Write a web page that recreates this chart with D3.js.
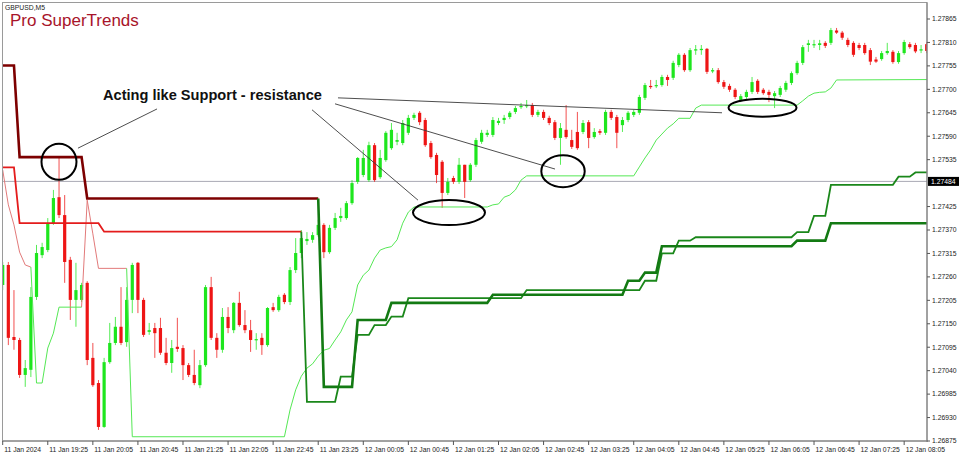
<!DOCTYPE html>
<html><head><meta charset="utf-8">
<script src="https://cdn.jsdelivr.net/npm/d3@7"></script>
<style>body{margin:0;background:#fff}svg{display:block}</style>
</head><body><svg id="c" width="960" height="458"></svg>
<script>
// ---------- DATA ----------
const timeTickBars = [0,8,16,24,32,40,48,56,64,72,80,88,96,104,112,120,128,136,144,152,160];
const timeTickLabels = ["11 Jan 2024","11 Jan 19:25","11 Jan 20:05","11 Jan 20:45","11 Jan 21:25","11 Jan 22:05","11 Jan 22:45","11 Jan 23:25","12 Jan 00:05","12 Jan 00:45","12 Jan 01:25","12 Jan 02:05","12 Jan 02:45","12 Jan 03:25","12 Jan 04:05","12 Jan 04:45","12 Jan 05:25","12 Jan 06:05","12 Jan 06:45","12 Jan 07:25","12 Jan 08:05"];
const priceTickLabels = ["1.26875","1.26930","1.26985","1.27040","1.27095","1.27150","1.27205","1.27260","1.27315","1.27370","1.27425","1.27535","1.27590","1.27645","1.27700","1.27755","1.27810","1.27865"];
const currentPrice = 1.27484;

const opens = [1.27241,1.27288,1.27119,1.27112,1.27030,1.27042,1.27213,1.27311,1.27323,1.27386,
1.27447,1.27405,1.27300,1.27206,1.27206,1.27246,1.27070,1.27011,1.26908,1.27060,
1.27105,1.27143,1.27107,1.27206,1.27293,1.27206,1.27131,1.27140,1.27140,1.27082,
1.27058,1.27096,1.27093,1.27053,1.27030,1.27006,1.27053,1.27236,1.27117,1.27089,
1.27166,1.27135,1.27199,1.27147,1.27135,1.27112,1.27117,1.27100,1.27189,1.27182,
1.27218,1.27201,1.27276,1.27316,1.27344,1.27347,1.27358,1.27382,1.27318,1.27375,
1.27398,1.27398,1.27433,1.27483,1.27499,1.27487,1.27569,1.27494,1.27534,1.27562,
1.27577,1.27574,1.27598,1.27633,1.27645,1.27628,1.27574,1.27546,1.27530,1.27457,
1.27492,1.27483,1.27523,1.27487,1.27523,1.27577,1.27593,1.27593,1.27621,1.27628,
1.27635,1.27647,1.27659,1.27661,1.27663,1.27640,1.27647,1.27633,1.27623,1.27586,
1.27605,1.27581,1.27600,1.27600,1.27623,1.27588,1.27602,1.27598,1.27647,1.27635,
1.27616,1.27628,1.27640,1.27645,1.27680,1.27708,1.27708,1.27710,1.27729,1.27727,
1.27757,1.27781,1.27745,1.27791,1.27792,1.27795,1.27742,1.27745,1.27717,1.27708,
1.27699,1.27675,1.27682,1.27694,1.27720,1.27699,1.27694,1.27684,1.27687,1.27699,
1.27715,1.27738,1.27762,1.27804,1.27804,1.27804,1.27809,1.27809,1.27838,1.27833,
1.27816,1.27809,1.27804,1.27804,1.27792,1.27770,1.27771,1.27785,1.27788,1.27764,
1.27785,1.27806,1.27804,1.27791,1.27806];
const highs = [1.27295,1.27295,1.27229,1.27117,1.27065,1.27236,1.27335,1.27340,1.27398,1.27464,
1.27539,1.27452,1.27307,1.27293,1.27246,1.27250,1.27105,1.27018,1.27070,1.27152,
1.27166,1.27236,1.27236,1.27293,1.27295,1.27211,1.27152,1.27152,1.27164,1.27117,
1.27112,1.27164,1.27100,1.27058,1.27089,1.27065,1.27241,1.27260,1.27128,1.27187,
1.27189,1.27201,1.27225,1.27182,1.27159,1.27128,1.27128,1.27189,1.27199,1.27218,
1.27222,1.27283,1.27351,1.27370,1.27365,1.27365,1.27394,1.27386,1.27382,1.27410,
1.27422,1.27438,1.27487,1.27541,1.27558,1.27577,1.27574,1.27558,1.27602,1.27621,
1.27598,1.27628,1.27640,1.27645,1.27649,1.27633,1.27579,1.27551,1.27534,1.27492,
1.27497,1.27539,1.27523,1.27527,1.27586,1.27605,1.27605,1.27635,1.27633,1.27640,
1.27649,1.27661,1.27668,1.27675,1.27668,1.27652,1.27652,1.27638,1.27628,1.27621,
1.27663,1.27605,1.27647,1.27628,1.27628,1.27609,1.27607,1.27652,1.27652,1.27640,
1.27635,1.27649,1.27652,1.27687,1.27715,1.27722,1.27722,1.27734,1.27734,1.27767,
1.27785,1.27785,1.27797,1.27804,1.27804,1.27797,1.27750,1.27750,1.27722,1.27713,
1.27703,1.27689,1.27699,1.27729,1.27724,1.27703,1.27699,1.27696,1.27708,1.27720,
1.27742,1.27767,1.27804,1.27816,1.27816,1.27816,1.27813,1.27844,1.27844,1.27837,
1.27821,1.27813,1.27809,1.27809,1.27797,1.27776,1.27790,1.27809,1.27792,1.27790,
1.27816,1.27811,1.27809,1.27804,1.27811];
const lows = [1.27229,1.27100,1.27089,1.27023,1.27002,1.27025,1.27206,1.27304,1.27318,1.27382,
1.27398,1.27246,1.27159,1.27143,1.27201,1.27053,1.27002,1.26901,1.26906,1.27056,
1.27100,1.27100,1.27096,1.27175,1.27175,1.27119,1.27124,1.27070,1.27077,1.27053,
1.27035,1.27084,1.27018,1.27025,1.27006,1.26999,1.27049,1.27112,1.27070,1.27082,
1.27128,1.27128,1.27143,1.27128,1.27084,1.27089,1.27077,1.27096,1.27178,1.27178,
1.27196,1.27194,1.27269,1.27304,1.27335,1.27340,1.27354,1.27304,1.27314,1.27370,
1.27389,1.27394,1.27429,1.27478,1.27494,1.27483,1.27483,1.27490,1.27530,1.27558,
1.27569,1.27569,1.27593,1.27628,1.27616,1.27565,1.27537,1.27480,1.27422,1.27452,
1.27478,1.27478,1.27445,1.27483,1.27518,1.27572,1.27588,1.27588,1.27616,1.27619,
1.27630,1.27642,1.27654,1.27656,1.27635,1.27635,1.27628,1.27616,1.27581,1.27523,
1.27584,1.27560,1.27558,1.27595,1.27562,1.27584,1.27593,1.27593,1.27628,1.27562,
1.27600,1.27623,1.27635,1.27640,1.27675,1.27701,1.27703,1.27706,1.27708,1.27722,
1.27752,1.27741,1.27741,1.27781,1.27781,1.27736,1.27738,1.27713,1.27701,1.27694,
1.27677,1.27670,1.27677,1.27689,1.27689,1.27687,1.27670,1.27656,1.27682,1.27694,
1.27710,1.27734,1.27757,1.27788,1.27797,1.27792,1.27797,1.27804,1.27830,1.27816,
1.27799,1.27776,1.27792,1.27781,1.27757,1.27762,1.27767,1.27781,1.27760,1.27760,
1.27781,1.27795,1.27785,1.27785,1.27785];
const closes = [1.27288,1.27117,1.27112,1.27030,1.27046,1.27213,1.27316,1.27330,1.27386,1.27445,
1.27405,1.27295,1.27206,1.27229,1.27241,1.27065,1.27006,1.26908,1.27060,1.27105,
1.27143,1.27105,1.27206,1.27288,1.27206,1.27124,1.27135,1.27128,1.27082,1.27058,
1.27093,1.27091,1.27053,1.27030,1.27011,1.27053,1.27236,1.27117,1.27089,1.27166,
1.27140,1.27199,1.27147,1.27135,1.27112,1.27114,1.27100,1.27187,1.27182,1.27213,
1.27201,1.27276,1.27316,1.27351,1.27349,1.27358,1.27382,1.27318,1.27375,1.27398,
1.27403,1.27433,1.27480,1.27539,1.27539,1.27569,1.27487,1.27539,1.27598,1.27605,
1.27581,1.27621,1.27633,1.27640,1.27623,1.27569,1.27541,1.27499,1.27457,1.27483,
1.27483,1.27523,1.27483,1.27523,1.27581,1.27598,1.27598,1.27628,1.27626,1.27633,
1.27645,1.27656,1.27661,1.27663,1.27640,1.27647,1.27633,1.27621,1.27586,1.27609,
1.27588,1.27565,1.27562,1.27621,1.27586,1.27600,1.27598,1.27647,1.27633,1.27598,
1.27628,1.27645,1.27647,1.27682,1.27710,1.27706,1.27710,1.27729,1.27722,1.27762,
1.27781,1.27745,1.27792,1.27794,1.27795,1.27741,1.27745,1.27717,1.27706,1.27699,
1.27682,1.27684,1.27694,1.27717,1.27694,1.27691,1.27687,1.27691,1.27703,1.27715,
1.27738,1.27762,1.27799,1.27808,1.27806,1.27808,1.27802,1.27839,1.27833,1.27821,
1.27804,1.27781,1.27797,1.27785,1.27765,1.27765,1.27785,1.27790,1.27764,1.27785,
1.27811,1.27799,1.27789,1.27794,1.27790];

// SuperTrend lines: [bar index, price] vertices
const slowUp = [[0,1.27756],[2,1.27756],[3,1.27541],[14,1.27541],[15,1.27444],[56,1.27444]];
const slowDown = [[56,1.27444],[57,1.27002],[62,1.27002],[63,1.27159],[68,1.27159],[69,1.27199],[86,1.27199],[87,1.27218],[110,1.27218],[111,1.27251],[113,1.27251],[114,1.27270],[116,1.27270],[117,1.27332],[140,1.27332],[141,1.27345],[146,1.27345],[147,1.27386],[165,1.27386]];
const midUp = [[0,1.27517],[2,1.27517],[3,1.27386],[17,1.27386],[18,1.27366],[53,1.27366]];
const midDown = [[53,1.27366],[54,1.26967],[59,1.26967],[60,1.27026],[62,1.27026],[63,1.27124],[65,1.27124],[66,1.27147],[68,1.27147],[69,1.27167],[71,1.27167],[72,1.27210],[92,1.27210],[93,1.27229],[113,1.27229],[114,1.27251],[116,1.27251],[117,1.27315],[119,1.27315],[120,1.27345],[122,1.27345],[123,1.27353],[140,1.27353],[141,1.27365],[143,1.27365],[144,1.27403],[146,1.27403],[147,1.27476],[158,1.27476],[159,1.27495],[161,1.27495],[162,1.27505],[165,1.27505]];
const fastUp1 = [[0,1.27511],[1,1.27429],[2,1.27382],[3,1.27318],[4,1.27288],[5,1.27283]];
const fastUp2 = [[14,1.27189],[15,1.27440],[16,1.27361],[17,1.27280],[22,1.27280]];
const fastDown1 = [[5,1.27283],[6,1.27011],[7,1.27011],[8,1.27093],[9,1.27128],[10,1.27189],[14,1.27189]];
const fastDown2 = [[22,1.27280],[23,1.26885],[50,1.26885],[51,1.26948],[52,1.26995],[53,1.27027],[54,1.27046],[55,1.27056],[56,1.27074],[57,1.27088],[58,1.27092],[59,1.27112],[60,1.27131],[61,1.27159],[62,1.27178],[63,1.27241],[64,1.27264],[65,1.27276],[66,1.27304],[67,1.27323],[68,1.27328],[69,1.27331],[70,1.27347],[71,1.27386],[72,1.27412],[73,1.27424],[86,1.27424],[87,1.27429],[88,1.27431],[89,1.27447],[90,1.27452],[91,1.27464],[92,1.27487],[93,1.27497],[112,1.27497],[113,1.27518],[114,1.27539],[115,1.27558],[116,1.27581],[117,1.27595],[118,1.27609],[119,1.27619],[120,1.27632],[122,1.27632],[123,1.27656],[124,1.27663],[141,1.27663],[142,1.27673],[143,1.27684],[144,1.27691],[145,1.27693],[146,1.27694],[147,1.27703],[148,1.27722],[165,1.27723]];

// annotation pointers: [bar1, price1, bar2, price2]
const pointerLines = [[13.36,1.27562,27.39,1.27654],[54.9,1.27652,73.71,1.27440],[58.98,1.27666,98.03,1.27513],[59.51,1.27680,127.67,1.27645]];
const ellipseCenters = [[9.99,1.27530],[79.21,1.27411],[99.45,1.27508],[134.86,1.27657]];
const ellipseRadii = [[17.5,18],[36,12.5],[21.7,16],[34,9]];

// ---------- DRAW ----------
const svg = d3.select("#c");
const W = 960, H = 458;
const pL = 2.5, pR = 927, pT = 2.5, pB = 441;
const xS = d3.scaleLinear().domain([0,164]).range([2.7,926.7]);
const yS = d3.scaleLinear().domain([1.26875,1.27865]).range([441,19]);

svg.append("rect").attr("width",W).attr("height",H).attr("fill","#fff");
svg.append("defs").append("clipPath").attr("id","plot").append("rect")
  .attr("x",pL+0.5).attr("y",pT+0.5).attr("width",pR-pL-0.5).attr("height",pB-pT-0.5);

const plot = svg.append("g").attr("clip-path","url(#plot)");

// current price line
plot.append("line").attr("x1",pL).attr("x2",pR).attr("y1",yS(currentPrice)).attr("y2",yS(currentPrice))
  .attr("stroke","#a9a9b4").attr("stroke-width",1);

// candles
const idx = d3.range(opens.length);
const bull = "#1ee61e", bear = "#ee1515";
plot.append("g").selectAll("line").data(idx).join("line")
  .attr("x1",i=>xS(i)).attr("x2",i=>xS(i)).attr("y1",i=>yS(highs[i])).attr("y2",i=>yS(lows[i]))
  .attr("stroke",i=>closes[i]>=opens[i]?bull:bear).attr("stroke-width",1).attr("stroke-opacity",0.75);
plot.append("g").selectAll("rect").data(idx).join("rect")
  .attr("x",i=>xS(i)-1.6).attr("width",3.2)
  .attr("y",i=>yS(Math.max(opens[i],closes[i])))
  .attr("height",i=>Math.max(1.2, yS(Math.min(opens[i],closes[i]))-yS(Math.max(opens[i],closes[i]))))
  .attr("fill",i=>closes[i]>=opens[i]?bull:bear);

// supertrend lines
const ln = d3.line().x(d=>xS(d[0])).y(d=>yS(d[1]));
function drawLine(data,color,w){
  plot.append("path").attr("d",ln(data)).attr("fill","none").attr("stroke",color)
    .attr("stroke-width",w).attr("stroke-linejoin","miter");
}
drawLine(fastUp1,"#e27a7a",1);
drawLine(fastUp2,"#e27a7a",1);
drawLine(fastDown1,"#55e855",1);
drawLine(fastDown2,"#55e855",1);
drawLine(midUp,"#e41c1c",1.8);
drawLine(midDown,"#1a871a",1.8);
drawLine(slowUp,"#7d0000",2.6);
drawLine(slowDown,"#137a13",2.6);

// annotations
const ann = svg.append("g");
ann.selectAll("line").data(pointerLines).join("line")
  .attr("x1",d=>xS(d[0])).attr("y1",d=>yS(d[1])).attr("x2",d=>xS(d[2])).attr("y2",d=>yS(d[3]))
  .attr("stroke","#3a3a3a").attr("stroke-width",0.9);
ann.selectAll("ellipse").data(ellipseCenters).join("ellipse")
  .attr("cx",d=>xS(d[0])).attr("cy",d=>yS(d[1]))
  .attr("rx",(d,k)=>ellipseRadii[k][0]).attr("ry",(d,k)=>ellipseRadii[k][1])
  .attr("fill","none").attr("stroke","#000").attr("stroke-width",2);

const fnt = "'Liberation Sans', Arial, sans-serif";
svg.append("text").attr("x",103).attr("y",99.5).text("Acting like Support - resistance")
  .attr("font-family",fnt).attr("font-weight","bold")
  .attr("font-size",14.5).attr("fill","#111").attr("textLength",219).attr("lengthAdjust","spacingAndGlyphs");

// frame
svg.append("rect").attr("x",pL).attr("y",pT).attr("width",pR-pL).attr("height",pB-pT)
  .attr("fill","none").attr("stroke","#9a9a9a").attr("stroke-width",1);
svg.append("line").attr("x1",pR).attr("x2",pR).attr("y1",pT).attr("y2",pB+1).attr("stroke","#777");
svg.append("line").attr("x1",pL).attr("x2",pR).attr("y1",pB).attr("y2",pB).attr("stroke","#777");

// titles
svg.append("text").attr("x",5).attr("y",9.5).text("GBPUSD,M5")
  .attr("font-family",fnt).attr("font-size",6.8).attr("fill","#222");
svg.append("text").attr("x",10).attr("y",26).text("Pro SuperTrends")
  .attr("font-family",fnt).attr("font-size",17).attr("fill","#a8142a");

// price axis
const pAx = svg.append("g");
priceTickLabels.forEach(s=>{
  const v = +s, yy = yS(v);
  pAx.append("line").attr("x1",pR).attr("x2",pR+3).attr("y1",yy).attr("y2",yy).attr("stroke","#555");
  pAx.append("text").attr("x",pR+5).attr("y",yy).attr("dy","0.35em").text(s)
    .attr("font-family",fnt).attr("font-size",6.8).attr("fill","#222");
});
const cpy = yS(currentPrice);
pAx.append("rect").attr("x",pR+1).attr("y",cpy-4.5).attr("width",31).attr("height",9).attr("fill","#000");
pAx.append("text").attr("x",pR+4).attr("y",cpy).attr("dy","0.35em").text(currentPrice.toFixed(5))
  .attr("font-family",fnt).attr("font-size",6.8).attr("fill","#fff");

// time axis
const tAx = svg.append("g");
timeTickBars.forEach((b,k)=>{
  const xx = xS(b);
  tAx.append("line").attr("x1",xx).attr("x2",xx).attr("y1",pB).attr("y2",pB+4).attr("stroke","#555");
  tAx.append("text").attr("x",xx+1.5).attr("y",452).text(timeTickLabels[k])
    .attr("font-family",fnt).attr("font-size",6.8).attr("fill","#222");
});
</script></body></html>
